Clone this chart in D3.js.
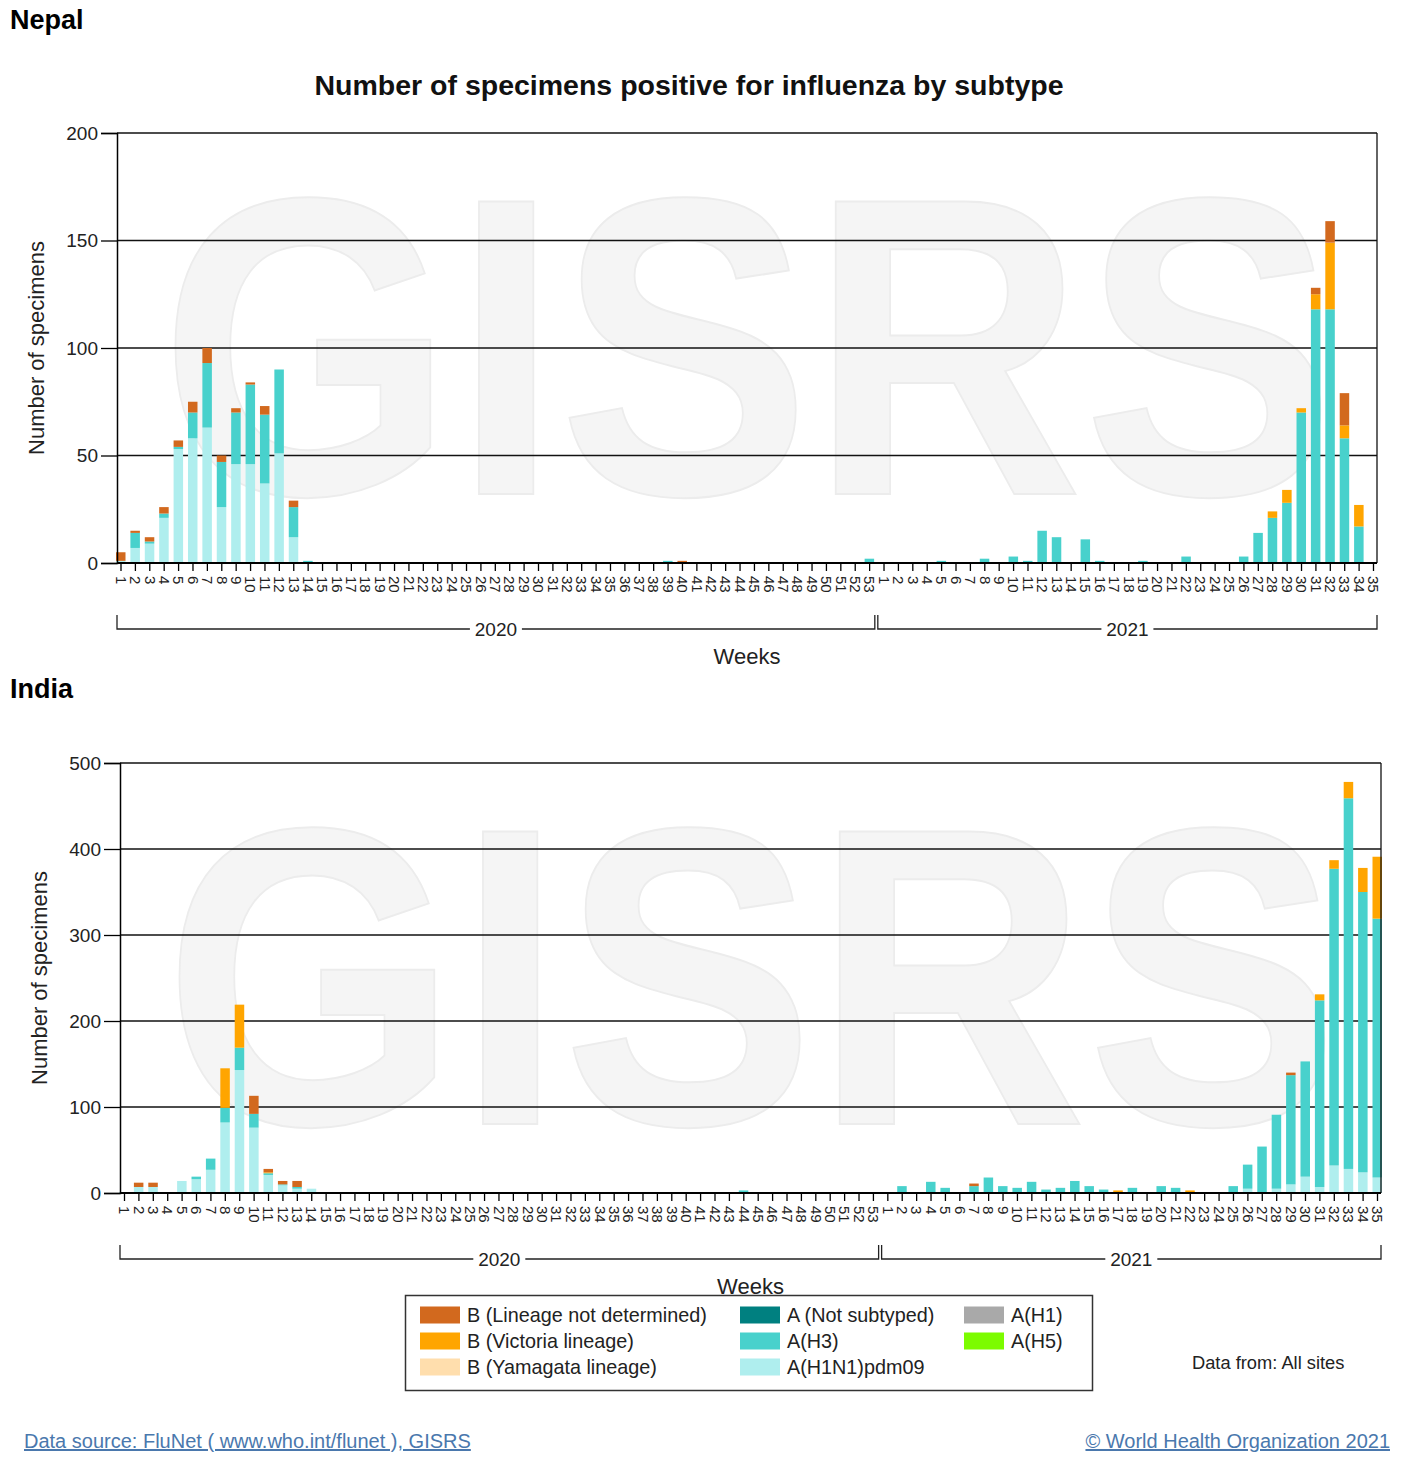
<!DOCTYPE html>
<html><head><meta charset="utf-8">
<script src="https://cdn.jsdelivr.net/npm/d3@7"></script>
<style>
body{margin:0;background:#fff;}
svg{display:block;font-family:"Liberation Sans",Arial,Helvetica,sans-serif;}
</style>
</head><body>
<svg id="chart" width="1415" height="1470"></svg>
<script>
// ---------- tick labels ----------
const weeks2020 = [1,2,3,4,5,6,7,8,9,10,11,12,13,14,15,16,17,18,19,20,21,22,23,24,25,26,27,28,29,30,31,32,33,34,35,36,37,38,39,40,41,42,43,44,45,46,47,48,49,50,51,52,53];
const weeks2021 = [1,2,3,4,5,6,7,8,9,10,11,12,13,14,15,16,17,18,19,20,21,22,23,24,25,26,27,28,29,30,31,32,33,34,35];
const yearLabels = ["2020","2021"];
const nepalYTicks = [0,50,100,150,200];
const indiaYTicks = [0,100,200,300,400,500];

// ---------- Nepal (weeks 2020 w1-53, 2021 w1-35) ----------
const nepal_H1N1_2020 = [1,7,9,21,53,58,63,26,46,46, 37,51,12,0,0,0,0,0,0,0, 0,0,0,0,0,0,0,0,0,0, 0,0,0,0,0,0,0,0,0,0, 0,0,0,0,0,0,0,0,0,0, 0,0,0];
const nepal_H1N1_2021 = [0,0,0,0,0,0,0,0,0,0, 0,0,0,0,0,0,0,0,0,0, 0,0,0,0,0,0,0,0,0,0, 0,0,0,0,0];
const nepal_H3_2020 = [0,7,1,2,1,12,30,21,24,37, 32,39,14,1,0,0,0,0,0,0, 0,0,0,0,0,0,0,0,0,0, 0,0,0,0,0,0,0,0,1,0, 0,0,0,0,0,0,0,0,0,0, 0,0,2];
const nepal_H3_2021 = [0,0,0,0,1,0,0,2,0,3, 1,15,12,0,11,1,0,0,1,0, 0,3,0,0,0,3,14,21,28,70, 118,118,58,17,0];
const nepal_Vic_2020 = [0,0,0,0,0,0,0,0,0,0, 0,0,0,0,0,0,0,0,0,0, 0,0,0,0,0,0,0,0,0,0, 0,0,0,0,0,0,0,0,0,0, 0,0,0,0,0,0,0,0,0,0, 0,0,0];
const nepal_Vic_2021 = [0,0,0,0,0,0,0,0,0,0, 0,0,0,0,0,0,0,0,0,0, 0,0,0,0,0,0,0,3,6,2, 7,31,6,10,0];
const nepal_BND_2020 = [4,1,2,3,3,5,7,3,2,1, 4,0,3,0,0,0,0,0,0,0, 0,0,0,0,0,0,0,0,0,0, 0,0,0,0,0,0,0,0,0,1, 0,0,0,0,0,0,0,0,0,0, 0,0,0];
const nepal_BND_2021 = [0,0,0,0,0,0,0,0,0,0, 0,0,0,0,0,0,0,0,0,0, 0,0,0,0,0,0,0,0,0,0, 3,10,15,0,0];

// ---------- India ----------
const india_H1N1_2020 = [0,7,7,0,14,16,27,82,143,76, 21,9,5,5,0,0,0,0,0,0, 0,0,0,0,0,0,0,0,0,0, 0,0,0,0,0,0,0,0,0,0, 0,0,0,0,0,0,0,0,0,0, 0,0,0];
const india_H1N1_2021 = [0,0,0,0,0,0,0,0,0,0, 0,0,0,0,0,0,0,0,0,0, 0,0,0,1,0,5,0,5,10,19, 7,32,28,24,18];
const india_H3_2020 = [1,0,0,0,0,3,13,17,26,16, 2,1,2,0,0,0,0,0,0,0, 0,0,0,0,0,0,0,0,0,0, 0,0,0,0,0,0,0,0,0,0, 1,0,0,3,0,0,0,0,0,0, 0,0,1];
const india_H3_2021 = [0,8,0,13,6,0,8,18,8,6, 13,4,6,14,8,4,0,6,0,8, 6,0,0,0,8,28,54,86,127,134, 217,345,431,326,301];
const india_Vic_2020 = [0,0,0,0,0,0,0,46,50,0, 1,0,0,0,0,0,0,0,0,0, 0,0,0,0,0,0,0,0,0,0, 0,0,0,0,0,0,0,0,0,0, 0,0,0,0,0,0,0,0,0,0, 0,0,0];
const india_Vic_2021 = [0,0,0,0,0,0,0,0,0,0, 0,0,0,0,0,0,3,0,1,0, 0,3,0,0,0,0,0,0,0,0, 7,10,19,28,72];
const india_BND_2020 = [0,5,5,0,0,0,0,0,0,21, 4,4,7,0,0,0,0,0,0,0, 0,0,0,0,0,0,0,0,0,0, 0,0,0,0,0,0,0,0,0,0, 0,0,0,0,0,0,0,0,0,0, 0,0,0];
const india_BND_2021 = [0,0,0,0,0,0,3,0,0,0, 0,0,0,0,0,0,0,0,0,0, 0,0,0,0,0,0,0,0,3,0, 0,0,0,0,0];

// ---------- legend ----------
const legendNames = ["B (Lineage not determined)","B (Victoria lineage)","B (Yamagata lineage)","A (Not subtyped)","A(H3)","A(H1N1)pdm09","A(H1)","A(H5)"];
const legendColors = ["#d2691e","#ffa500","#ffdead","#008080","#48d1cc","#afeeee","#a9a9a9","#7cfc00"];
const stackKeys = ["H1N1","H3","Vic","BND"];
const stackColors = {H1N1:"#afeeee", H3:"#48d1cc", Vic:"#ffa500", BND:"#d2691e"};

const svg = d3.select("#chart");
svg.append("rect").attr("width",1415).attr("height",1470).attr("fill","#fff");

function rowsFor(h1, h1b, h3, h3b, v, vb, b, bb){
  const rows = [];
  weeks2020.forEach((w,i)=>rows.push({key:"2020-"+w, label:w, H1N1:h1[i], H3:h3[i], Vic:v[i], BND:b[i]}));
  weeks2021.forEach((w,i)=>rows.push({key:"2021-"+w, label:w, H1N1:h1b[i], H3:h3b[i], Vic:vb[i], BND:bb[i]}));
  return rows;
}

function panel(cfg){
  const g = svg.append("g");
  const rows = cfg.rows;
  const x = d3.scalePoint().domain(rows.map(r=>r.key)).range([cfg.x0, cfg.x1]);
  const y = d3.scaleLinear().domain([0, cfg.yMax]).range([cfg.bottom, cfg.top]);

  // watermark
  g.append("text").attr("x", cfg.wmX).attr("y", cfg.wmY)
    .attr("font-size", 425).attr("font-weight","bold")
    .attr("textLength", cfg.wmLen).attr("lengthAdjust","spacingAndGlyphs")
    .attr("fill","#f5f5f5").attr("stroke","#ececec").attr("stroke-width",2)
    .text("GISRS");

  // gridlines
  g.selectAll(".grid").data(cfg.yTicks).join("line")
    .attr("x1", cfg.left).attr("x2", cfg.right)
    .attr("y1", d=>y(d)).attr("y2", d=>y(d))
    .attr("stroke","#111").attr("stroke-width",1.3);

  // bars
  const stacked = d3.stack().keys(stackKeys)(rows);
  stacked.forEach(layer=>{
    g.append("g").attr("fill", stackColors[layer.key])
      .selectAll("rect").data(layer.filter(d=>d[1]-d[0]>0)).join("rect")
      .attr("x", d=>x(d.data.key)-4.5).attr("width", 9.5)
      .attr("y", d=>y(d[1])).attr("height", d=>y(d[0])-y(d[1]));
  });

  // frame right
  g.append("line").attr("x1",cfg.right).attr("x2",cfg.right).attr("y1",cfg.top).attr("y2",cfg.bottom)
    .attr("stroke","#111").attr("stroke-width",1.3);

  // y axis
  const ya = g.append("g").attr("transform",`translate(${cfg.left},0)`)
    .call(d3.axisLeft(y).tickValues(cfg.yTicks).tickSize(16).tickPadding(3));
  ya.select(".domain").attr("stroke","#000").attr("stroke-width",1.5);
  ya.selectAll(".tick line").attr("stroke","#000").attr("stroke-width",1.3);
  ya.selectAll("text").attr("font-size",19).attr("fill","#222").attr("font-family","Liberation Sans, Arial, sans-serif");

  // x axis
  const labelOf = {}; rows.forEach(r=>labelOf[r.key]=r.label);
  const xa = g.append("g").attr("transform",`translate(0,${cfg.bottom})`)
    .call(d3.axisBottom(x).tickSize(8).tickSizeOuter(0).tickFormat(k=>labelOf[k]));
  xa.select(".domain").attr("d", `M${cfg.left},0H${cfg.right}`).attr("stroke","#000").attr("stroke-width",1.8);
  xa.selectAll(".tick line").attr("stroke","#000").attr("stroke-width",1.3);
  xa.selectAll("text").attr("font-size",15).attr("fill","#222")
    .attr("font-family","Liberation Sans, Arial, sans-serif")
    .attr("transform","rotate(90)").attr("text-anchor","start")
    .attr("x",13).attr("y",0).attr("dy","0.35em");

  // year brackets
  const mid = (x(rows[52].key)+x(rows[53].key))/2;
  const brackets = [[cfg.left, mid-1.5, yearLabels[0]],[mid+1.5, cfg.right, yearLabels[1]]];
  const by = cfg.bracketY;
  brackets.forEach(([a,b,lab])=>{
    g.append("path").attr("d",`M${a},${by-14}V${by}H${b}V${by-14}`)
      .attr("fill","none").attr("stroke","#222").attr("stroke-width",1.3);
    const cx=(a+b)/2;
    g.append("rect").attr("x",cx-26).attr("y",by-10).attr("width",52).attr("height",20).attr("fill","#fff");
    g.append("text").attr("x",cx).attr("y",by+7).attr("text-anchor","middle")
      .attr("font-size",19).attr("fill","#222").text(lab);
  });

  // axis titles
  g.append("text").attr("x",(cfg.left+cfg.right)/2).attr("y",cfg.bracketY+35)
    .attr("text-anchor","middle").attr("font-size",22).attr("fill","#222").text("Weeks");
  g.append("text").attr("transform",`translate(${cfg.yLabelX},${(cfg.top+cfg.bottom)/2}) rotate(-90)`)
    .attr("text-anchor","middle").attr("font-size",22).attr("fill","#222").text("Number of specimens");

  // country
  g.append("text").attr("x",10).attr("y",cfg.countryY).attr("font-size",27).attr("font-weight","bold")
    .attr("fill","#000").text(cfg.country);
}

svg.append("text").attr("x",689).attr("y",95).attr("text-anchor","middle")
  .attr("font-size",28.5).attr("font-weight","bold").attr("fill","#111")
  .text("Number of specimens positive for influenza by subtype");

panel({
  country:"Nepal", countryY:29,
  rows: rowsFor(nepal_H1N1_2020,nepal_H1N1_2021,nepal_H3_2020,nepal_H3_2021,nepal_Vic_2020,nepal_Vic_2021,nepal_BND_2020,nepal_BND_2021),
  left:117, right:1377, top:133, bottom:563, x0:120.5, x1:1373,
  yMax:200, yTicks:nepalYTicks, bracketY:629, yLabelX:44,
  wmX:160, wmY:494, wmLen:1175
});
panel({
  country:"India", countryY:698,
  rows: rowsFor(india_H1N1_2020,india_H1N1_2021,india_H3_2020,india_H3_2021,india_Vic_2020,india_Vic_2021,india_BND_2020,india_BND_2021),
  left:120, right:1381, top:763, bottom:1193, x0:124, x1:1377,
  yMax:500, yTicks:indiaYTicks, bracketY:1259, yLabelX:47,
  wmX:164, wmY:1124, wmLen:1175
});

// legend
const lg = svg.append("g");
lg.append("rect").attr("x",405.5).attr("y",1295.5).attr("width",687).attr("height",95)
  .attr("fill","#fff").attr("stroke","#333").attr("stroke-width",1.5);
const colX = [420,740,964];
const rowY = [1315,1341,1367];
const legendPos = [[0,0],[0,1],[0,2],[1,0],[1,1],[1,2],[2,0],[2,1]];
legendNames.forEach((n,i)=>{
  const [c,r] = legendPos[i];
  lg.append("rect").attr("x",colX[c]).attr("y",rowY[r]-8.5).attr("width",40).attr("height",17).attr("fill",legendColors[i]);
  lg.append("text").attr("x",colX[c]+47).attr("y",rowY[r]+7).attr("font-size",19.8).attr("fill","#222").text(n);
});
svg.append("text").attr("x",1192).attr("y",1369).attr("font-size",18.3).attr("fill","#222").text("Data from: All sites");

// footer
svg.append("text").attr("x",24).attr("y",1448).attr("font-size",20).attr("fill","#4a78ad")
  .attr("text-decoration","underline").text("Data source: FluNet ( www.who.int/flunet ), GISRS");
svg.append("text").attr("x",1390).attr("y",1448).attr("text-anchor","end").attr("font-size",20).attr("fill","#4a78ad")
  .attr("text-decoration","underline").text("© World Health Organization 2021");
</script>
</body></html>
